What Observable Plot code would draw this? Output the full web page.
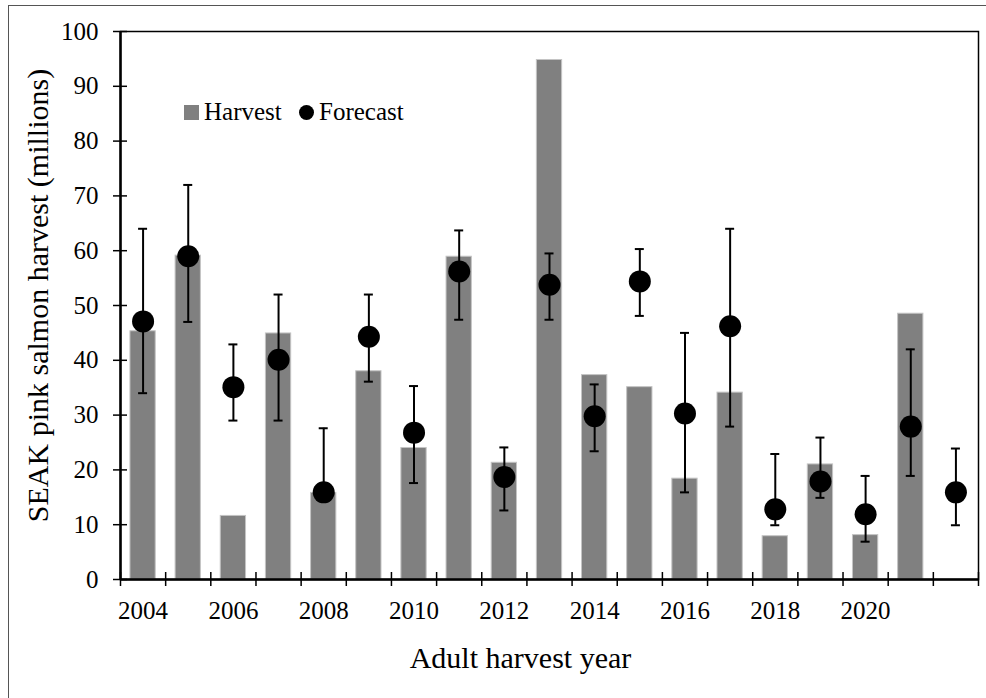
<!DOCTYPE html>
<html>
<head>
<meta charset="utf-8">
<script src="https://cdn.jsdelivr.net/npm/d3@7"></script>
<script src="https://cdn.jsdelivr.net/npm/@observablehq/plot@0.6"></script>
<style>
  html, body { margin: 0; padding: 0; background: #fff; }
  #wrap { position: relative; width: 986px; height: 698px; overflow: hidden; font-family: "Liberation Serif", "Times New Roman", serif; }
  #outer { position: absolute; left: 8px; top: 5px; width: 990px; height: 700px; border: 1.5px solid #555; box-sizing: border-box; }
  #chart { position: absolute; left: 0; top: 0; }
  .leg { position: absolute; font-size: 25px; line-height: 25px; color: #000; white-space: nowrap; }
</style>
</head>
<body>
<div id="wrap">
  <div id="outer"></div>
  <div id="chart"></div>
  <div class="leg" style="left:184px;top:105px;width:15px;height:15px;background:#808080;"></div>
  <div class="leg" style="left:204px;top:99px;">Harvest</div>
  <div class="leg" style="left:299px;top:105px;width:15px;height:15px;border-radius:50%;background:#000;"></div>
  <div class="leg" style="left:319px;top:99px;">Forecast</div>
</div>
<script>
// ---- data ----
const harvestYears = [2004,2005,2006,2007,2008,2009,2010,2011,2012,2013,2014,2015,2016,2017,2018,2019,2020,2021];
const harvestValues = [45.3,59.1,11.6,44.9,15.8,38.0,24.0,58.9,21.3,94.8,37.3,35.1,18.4,34.1,7.9,21.0,8.1,48.5];

const forecastYears = [2004,2005,2006,2007,2008,2009,2010,2011,2012,2013,2014,2015,2016,2017,2018,2019,2020,2021,2022];
const forecastValues = [47.1,59.0,35.1,40.1,15.9,44.3,26.8,56.2,18.7,53.8,29.8,54.4,30.3,46.2,12.8,17.9,11.9,27.9,15.9];
const forecastLow    = [34.0,47.0,29.0,29.0,15.0,36.1,17.6,47.4,12.6,47.4,23.4,48.1,15.9,27.9,9.9,14.9,6.9,18.9,9.9];
const forecastHigh   = [64.0,72.0,42.9,52.0,27.6,52.0,35.3,63.7,24.1,59.5,35.6,60.3,45.0,64.0,22.9,25.9,18.9,42.0,23.9];

const xTickLabels = [2004,2006,2008,2010,2012,2014,2016,2018,2020];
const yTickLabels = [0,10,20,30,40,50,60,70,80,90,100];

const yTitle = "SEAK pink salmon harvest (millions)";
const xTitle = "Adult harvest year";

// ---- tables ----
const harvest = harvestYears.map((year, i) => ({year, value: harvestValues[i]}));
const forecast = forecastYears.map((year, i) => ({year, value: forecastValues[i], lo: forecastLow[i], hi: forecastHigh[i]}));
const firstYear = forecastYears[0], lastYear = forecastYears[forecastYears.length - 1];
const boundaries = forecastYears.map(y => y - 0.5).concat([lastYear + 0.5]);
const halfBar = 0.28;

const chart = Plot.plot({
  width: 986,
  height: 698,
  marginLeft: 120,
  marginTop: 31,
  marginRight: 8,
  marginBottom: 119,
  style: {fontFamily: "'Liberation Serif', 'Times New Roman', serif", fontSize: "25px", background: "transparent", color: "#000"},
  x: {domain: [firstYear - 0.5, lastYear + 0.5]},
  y: {domain: [0, 100]},
  marks: [
    Plot.rectY(harvest, {x1: d => d.year - halfBar, x2: d => d.year + halfBar, y1: 0, y2: "value", fill: "#808080", stroke: "#c4c4c4", strokeWidth: 1}),
    Plot.frame({stroke: "#000", strokeWidth: 1.5}),
    Plot.ruleY([0], {stroke: "#000", strokeWidth: 2.5}),
    Plot.ruleX([firstYear - 0.5], {stroke: "#000", strokeWidth: 2.5}),
    // crossing ticks on the x axis at category boundaries
    Plot.ruleX(boundaries, {x: d => d, y1: 0, y2: 0, insetTop: -7, insetBottom: -7, stroke: "#000", strokeWidth: 1.5}),
    // crossing ticks on the y axis
    Plot.ruleY(yTickLabels, {y: d => d, x1: firstYear - 0.5, x2: firstYear - 0.5, insetLeft: -7, insetRight: -7, stroke: "#000", strokeWidth: 1.5}),
    // error bars
    Plot.ruleX(forecast, {x: "year", y1: "lo", y2: "hi", stroke: "#000", strokeWidth: 2}),
    Plot.ruleY(forecast, {y: "hi", x1: "year", x2: "year", insetLeft: -4.5, insetRight: -4.5, stroke: "#000", strokeWidth: 2}),
    Plot.ruleY(forecast, {y: "lo", x1: "year", x2: "year", insetLeft: -4.5, insetRight: -4.5, stroke: "#000", strokeWidth: 2}),
    Plot.dot(forecast, {x: "year", y: "value", r: 11, fill: "#000", stroke: "none"}),
    Plot.axisX(xTickLabels, {anchor: "bottom", tickSize: 0, tickPadding: 22, tickFormat: d => String(d), fontSize: 25, label: null}),
    Plot.axisY(yTickLabels, {anchor: "left", tickSize: 0, tickPadding: 22, fontSize: 25, label: null}),
    Plot.text([yTitle], {frameAnchor: "left", rotate: -90, dx: -82, dy: -10, fontSize: 30, textAnchor: "middle", lineAnchor: "middle"}),
    Plot.text([xTitle], {frameAnchor: "bottom", dx: -29, dy: 79, fontSize: 30, textAnchor: "middle", lineAnchor: "middle"})
  ]
});
document.getElementById("chart").appendChild(chart);
</script>
</body>
</html>
